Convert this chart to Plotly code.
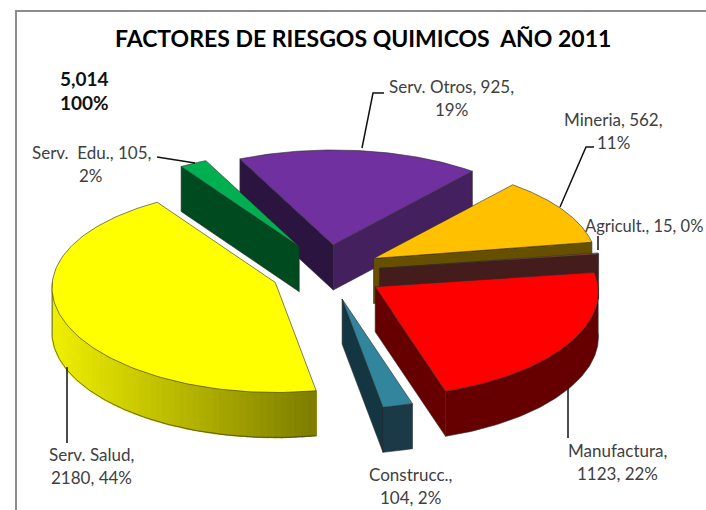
import numpy as np
import plotly.graph_objects as go

# ---- data (clockwise, starting with the purple slice) ----
categories = ["Serv. Otros", "Mineria", "Agricult.", "Manufactura", "Construcc.", "Serv. Salud", "Serv.  Edu."]
values = [925, 562, 15, 1123, 104, 2180, 105]
percent_labels = ["19%", "11%", "0%", "22%", "2%", "44%", "2%"]
total_label = "5,014"
total_percent = "100%"
title_text = "FACTORES DE RIESGOS QUIMICOS  AÑO 2011"

# ---- styling ----
top_colors = ["#7030a0", "#ffc000", "#c0504d", "#ff0000", "#31859c", "#ffff00", "#00b050"]
edge_a_colors = ["#2c1440", None, None, None, None, None, "#004a20"]
edge_b_colors = ["#45205f", "#665000", "#451c1c", "#660000", "#143642", None, None]
outer_colors = [None, None, "#451c1c", "#660000", "#1b3a48", "gradient", None]
pulls = [58, 50, 50, 51, 55, 60, 62]
pull_nudge_x = [-6, -2, -2, 0, -3, -1, -2]
pull_nudge_y = [0, -2, 0, 2, 2, 0, 0]
draw_order = [0, 6, 1, 2, 5, 3, 4]
START_DEG = -116.0
CX, CY = 332.0, 272.0
RX = 223.0
RY_MID, RY_PERSP = 102.5, 7.5
X_PERSP = 0.05
DEPTH = 45.0
TILT = 0.47
FONT = "Lato"
TEXT = "#404040"
LABEL_SIZE = 17

fig = go.Figure()


def project(apex, theta, r=1.0):
    u, v = r * np.cos(theta), r * np.sin(theta)
    return (apex[0] + RX * u * (1 + X_PERSP * v), apex[1] + v * (RY_MID + RY_PERSP * v))


def poly(xs, ys, fill, line=None, width=0.6):
    fig.add_trace(go.Scatter(
        x=list(xs) + [xs[0]], y=list(ys) + [ys[0]], mode="lines", fill="toself",
        fillcolor=fill, line=dict(color=line or fill, width=width),
        hoverinfo="skip", showlegend=False))


total = sum(values)
angles = START_DEG + np.cumsum([0] + values) / total * 360.0
OUTLINE = "#2a2a2a"

for i in draw_order:
    a, b = np.radians(angles[i]), np.radians(angles[i + 1])
    mid = (a + b) / 2
    apex = (CX + pulls[i] * np.cos(mid) + pull_nudge_x[i],
            CY + pulls[i] * TILT * np.sin(mid) + pull_nudge_y[i])
    px, py = project(apex, a)
    qx, qy = project(apex, b)
    if edge_a_colors[i]:
        poly([apex[0], px, px, apex[0]], [apex[1], py, py + DEPTH, apex[1] + DEPTH], edge_a_colors[i], OUTLINE)
    if edge_b_colors[i]:
        poly([apex[0], qx, qx, apex[0]], [apex[1], qy, qy + DEPTH, apex[1] + DEPTH], edge_b_colors[i], OUTLINE)
    # outer rim: only the part that faces the viewer
    lo, hi = max(a, 0.0), min(b, np.pi)
    if outer_colors[i] and hi > lo:
        if outer_colors[i] == "gradient":
            edges = np.linspace(lo, hi, 60)
            for t0, t1 in zip(edges[::-1][1:], edges[::-1][:-1]):
                t = np.linspace(t0, t1, 4)
                x, y = project(apex, t)
                frac = np.clip((x.mean() - 53.0) / (316.0 - 53.0), 0, 1)
                g = int(240 - 115 * frac)
                col = f"rgb({g},{g},0)"
                poly(list(x) + list(x[::-1]), list(y) + list(y[::-1] + DEPTH), col, col, 1.4)
            t = np.linspace(lo, hi, 120)
            x, y = project(apex, t)
            fig.add_trace(go.Scatter(x=list(x) + [x[-1]], y=list(y + DEPTH) + [y[-1]], mode="lines",
                                     line=dict(color=OUTLINE, width=0.6), hoverinfo="skip", showlegend=False))
        else:
            t = np.linspace(lo, hi, 80)
            x, y = project(apex, t)
            poly(list(x) + list(x[::-1]), list(y) + list(y[::-1] + DEPTH), outer_colors[i], OUTLINE)
    t = np.linspace(a, b, 120)
    x, y = project(apex, t)
    poly([apex[0]] + list(x), [apex[1]] + list(y), top_colors[i], OUTLINE)

# ---- labels ----
label_lines = {
    "Serv. Otros": (f"Serv. Otros, {values[0]},", percent_labels[0], 451, 98),
    "Mineria": (f"Mineria, {values[1]},", percent_labels[1], 613, 131),
    "Serv.  Edu.": (f"Serv.  Edu., {values[6]},", percent_labels[6], 91, 164),
    "Serv. Salud": ("Serv. Salud,", f"{values[5]}, {percent_labels[5]}", 91, 466),
    "Construcc.": ("Construcc.,", f"{values[4]}, {percent_labels[4]}", 410, 486),
    "Manufactura": ("Manufactura,", f"{values[3]}, {percent_labels[3]}", 617, 462),
}
annotations = []
for l1, l2, x, y in label_lines.values():
    annotations.append(dict(x=x, y=y - 11.5, text=l1, showarrow=False, xref="x", yref="y",
                            font=dict(family=FONT, size=LABEL_SIZE, color=TEXT)))
    annotations.append(dict(x=x, y=y + 11.5, text=l2, showarrow=False, xref="x", yref="y",
                            font=dict(family=FONT, size=LABEL_SIZE, color=TEXT)))
annotations.append(dict(x=583, y=226, text=f"{categories[2]}, {values[2]}, {percent_labels[2]}", showarrow=False,
                        xref="x", yref="y", xanchor="left", font=dict(family=FONT, size=16.5, color=TEXT)))
annotations.append(dict(x=84, y=78, text=f"<b>{total_label}</b>", showarrow=False, xref="x", yref="y",
                        font=dict(family=FONT, size=19, color="#111111")))
annotations.append(dict(x=84, y=102, text=f"<b>{total_percent}</b>", showarrow=False, xref="x", yref="y",
                        font=dict(family=FONT, size=19, color="#111111")))
annotations.append(dict(x=363, y=38, text=f"<b>{title_text}</b>", showarrow=False, xref="x", yref="y",
                        font=dict(family=FONT, size=23, color="#000000")))

# leader lines and frame
leaders = [
    [(362, 148), (373, 93), (384, 93)],
    [(560, 207), (586, 147), (594, 147)],
    [(598, 250), (598, 236)],
    [(157, 157), (195, 163)],
    [(67, 367), (67, 443)],
    [(568, 388), (568, 438)],
]
shapes = []
for pts in leaders:
    path = "M " + " L ".join(f"{x},{y}" for x, y in pts)
    shapes.append(dict(type="path", path=path, xref="x", yref="y", line=dict(color="#111111", width=1.5)))
shapes.append(dict(type="path", path="M 16,510 L 16,11 L 706,11", xref="x", yref="y",
                   line=dict(color="#8c8c8c", width=2)))

fig.update_layout(
    width=706, height=510, margin=dict(l=0, r=0, t=0, b=0),
    paper_bgcolor="white", plot_bgcolor="white", showlegend=False,
    xaxis=dict(range=[0, 706], visible=False, fixedrange=True),
    yaxis=dict(range=[510, 0], visible=False, fixedrange=True),
    annotations=annotations, shapes=shapes,
)
fig.write_html("out.html", config=dict(displayModeBar=False),
               post_script="document.body.style.margin='0';document.documentElement.style.overflow='hidden';")
